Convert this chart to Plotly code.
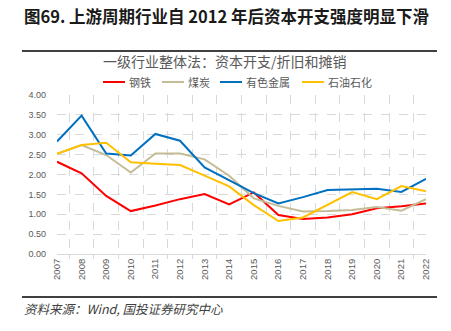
import plotly.graph_objects as go

years = [str(y) for y in range(2007, 2023)]
steel = [2.32, 2.03, 1.46, 1.08, 1.22, 1.38, 1.51, 1.25, 1.55, 0.98, 0.88, 0.92, 1.00, 1.15, 1.20, 1.27]
coal = [2.52, 2.74, 2.49, 2.05, 2.53, 2.53, 2.38, 1.97, 1.40, 1.21, 1.07, 1.08, 1.11, 1.18, 1.09, 1.38]
metal = [2.83, 3.48, 2.53, 2.48, 3.02, 2.85, 2.18, 1.86, 1.53, 1.27, 1.43, 1.61, 1.63, 1.64, 1.56, 1.89]
oil = [2.52, 2.74, 2.80, 2.31, 2.27, 2.24, 1.97, 1.70, 1.23, 0.83, 0.92, 1.23, 1.56, 1.38, 1.71, 1.58]

names = ["钢铁", "煤炭", "有色金属", "石油石化"]
colors = ["#FF0000", "#C4BC96", "#0070C0", "#FFC000"]
series = [steel, coal, metal, oil]

fig = go.Figure()
for n, c, s in zip(names, colors, series):
    fig.add_trace(go.Scatter(x=years, y=s, name=n, mode="lines",
                             line=dict(color=c, width=2), showlegend=False))

L, R, T, B = 57, 426, 95, 254
W, H = 451, 331
def px(x):
    return (x - L) / (R - L)
def py(y):
    return (B - y) / (B - T)

cjk = "Noto Sans CJK SC"
shapes = []
annotations = []
# header title
annotations.append(dict(x=px(22), y=py(16), xref="paper", yref="paper", xanchor="left", yanchor="middle",
                        text="<b>图69. 上游周期行业自 2012 年后资本开支强度明显下滑</b>", showarrow=False,
                        font=dict(family=cjk, size=16.5, color="#1a1a1a")))
# chart title
annotations.append(dict(x=px(225), y=py(61), xref="paper", yref="paper", xanchor="center", yanchor="middle",
                        text="一级行业整体法：资本开支/折旧和摊销", showarrow=False,
                        font=dict(family=cjk, size=14, color="#595959")))
# separators
for yy in (51, 297):
    shapes.append(dict(type="line", xref="paper", yref="paper", x0=px(22), x1=px(437), y0=py(yy), y1=py(yy),
                       line=dict(color="#404040", width=2)))
# source
annotations.append(dict(x=px(22), y=py(308), xref="paper", yref="paper", xanchor="left", yanchor="middle",
                        text="资料来源：Wind, 国投证券研究中心", showarrow=False,
                        font=dict(family=cjk, size=12.5, color="#404040", style="italic")))
# legend
leg_x = [103, 162, 220, 302]
for x0, n, c in zip(leg_x, names, colors):
    shapes.append(dict(type="line", xref="paper", yref="paper", x0=px(x0), x1=px(x0 + 22), y0=py(82), y1=py(82),
                       line=dict(color=c, width=2)))
    annotations.append(dict(x=px(x0 + 24), y=py(82), xref="paper", yref="paper", xanchor="left", yanchor="middle",
                            text=n, showarrow=False, font=dict(family=cjk, size=11, color="#595959")))

fig.update_layout(
    width=W, height=H, margin=dict(l=L, r=W - R, t=T, b=H - B),
    paper_bgcolor="white", plot_bgcolor="white",
    shapes=shapes, annotations=annotations,
    xaxis=dict(type="category", tickson="boundaries", tickangle=-90,
               showgrid=True, gridcolor="#D9D9D9", griddash="dash", gridwidth=1,
               showline=True, linecolor="#D9D9D9", linewidth=1,
               ticks="outside", ticklen=4, tickcolor="#D9D9D9",
               tickfont=dict(family="Liberation Sans", size=9.5, color="#595959")),
    yaxis=dict(range=[0, 4], dtick=0.5, tickformat=".2f",
               showgrid=True, gridcolor="#D9D9D9", griddash="dash", gridwidth=1,
               zeroline=False, showline=False, ticks="", ticklabelstandoff=10,
               tickfont=dict(family="Liberation Sans", size=9, color="#595959")),
)
fig.write_html("out.html")
